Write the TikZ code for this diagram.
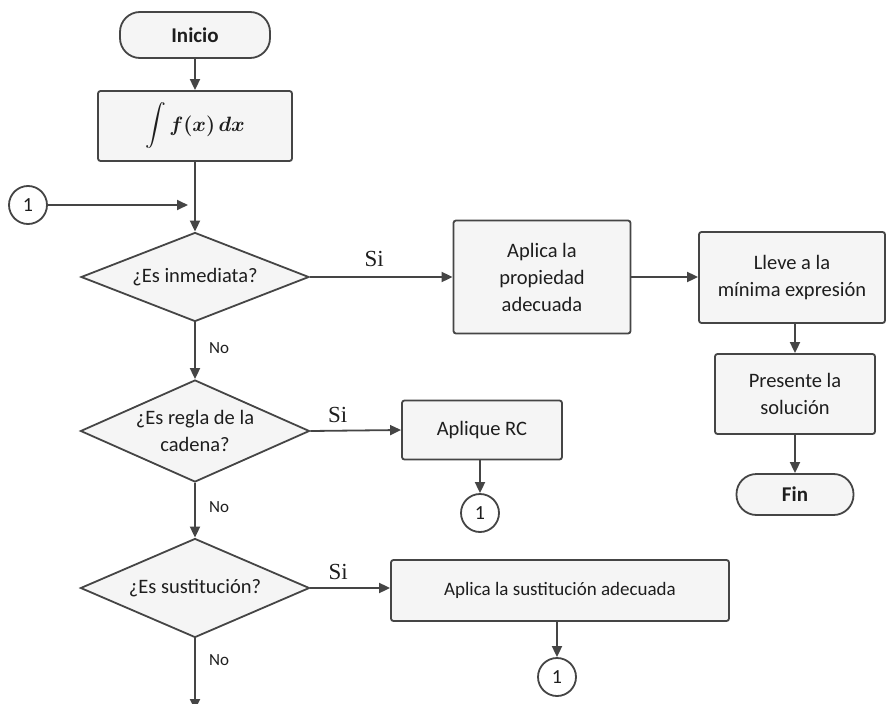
\documentclass[tikz,border=0pt]{standalone}
\usepackage{amsmath}
\usepackage{fontspec}
\setmainfont{Carlito}
\newfontfamily\serifSi{Liberation Serif}
\usetikzlibrary{shapes.geometric,arrows.meta}
\definecolor{ln}{HTML}{454545}
\definecolor{fl}{HTML}{F5F5F5}
\definecolor{tx}{HTML}{1E1E1E}
\begin{document}
\begin{tikzpicture}[x=1pt,y=-1pt,
  every node/.style={text=tx},
  base/.style={draw=ln, line width=1.8pt, fill=fl, inner sep=0pt, align=center, font=\fontsize{20.5}{27}\selectfont},
  procbox/.style={base, rectangle, rounded corners=2.5pt},
  term/.style={base, rectangle, rounded corners=20pt, font=\fontsize{21}{24}\selectfont\bfseries},
  decis/.style={base, diamond},
  conn/.style={draw=ln, line width=1.8pt, fill=white, circle, inner sep=0pt, minimum size=38pt, font=\fontsize{20}{22}\selectfont},
  arr/.style={draw=ln, line width=1.8pt, -{Triangle[length=11pt,width=10pt]}},
  silab/.style={font=\serifSi\fontsize{23}{26}\selectfont},
  nolab/.style={font=\fontsize{17}{19}\selectfont},
  dlab/.style={align=center, font=\fontsize{20.5}{27}\selectfont, text=tx}
]
\useasboundingbox (0,0) rectangle (887,704);

\node[term, minimum width=150pt, minimum height=46pt] (inicio) at (195,35) {Inicio};
\node[procbox, minimum width=194pt, minimum height=70pt, font=\fontsize{20}{24}\selectfont] (integ) at (195,126) {$\displaystyle\int \boldsymbol{f(x)}\,\boldsymbol{dx}$};
\node[conn] (c0) at (28,205) {1};
\coordinate (join) at (195,205);

\node[decis, minimum width=228pt, minimum height=89pt, label={[dlab]center:¿Es inmediata?}] (d1) at (195,277) {};
\node[decis, minimum width=229pt, minimum height=102pt, label={[dlab]center:¿Es regla de la\\cadena?}] (d2) at (195,431) {};
\node[decis, minimum width=229pt, minimum height=99pt, label={[dlab]center:¿Es sustitución?}] (d3) at (195,588) {};
\coordinate (bottom) at (195,710);

\node[procbox, minimum width=177pt, minimum height=113pt] (b1) at (542,277) {Aplica la\\propiedad\\adecuada};
\node[procbox, minimum width=186pt, minimum height=91pt] (b2) at (792,277.5) {Lleve a la\\mínima expresión};
\node[procbox, minimum width=160pt, minimum height=80pt] (b3) at (795,394) {Presente la\\solución};
\node[term, minimum width=117pt, minimum height=41pt] (fin) at (795,494.5) {Fin};

\node[procbox, minimum width=160pt, minimum height=59pt] (rc) at (482,430) {Aplique RC};
\node[conn] (c1) at (480,513) {1};

\node[procbox, minimum width=338pt, minimum height=61pt, font=\fontsize{19}{24}\selectfont] (sus) at (560,590.5) {Aplica la sustitución adecuada};
\node[conn] (c2) at (557,677) {1};

% connectors
\draw[arr] (inicio) -- (integ);
\draw[draw=ln, line width=1.8pt] (integ) -- (join);
\draw[arr] (join) -- (d1.north);
\draw[arr] (c0) -- ([xshift=-7pt]join);

\draw[arr] (d1.east) -- node[silab, above=6pt, pos=0.45] {Si} (b1.west);
\draw[arr] (b1.east) -- (b1.east -| b2.west);
\draw[arr] (b3.north |- b2.south) -- (b3.north);
\draw[arr] (b3) -- (fin);

\draw[arr] (d1.south) -- node[nolab, right=10pt, pos=0.45] {No} (d2.north);
\draw[arr] (d2.east) -- node[silab, above=4pt, pos=0.3] {Si} (rc.west);
\draw[arr] (c1.north |- rc.south) -- (c1.north);

\draw[arr] (d2.south) -- node[nolab, right=10pt, pos=0.45] {No} (d3.north);
\draw[arr] (d3.east) -- node[silab, above=4pt, pos=0.35] {Si} (d3.east -| sus.west);
\draw[arr] (c2.north |- sus.south) -- (c2.north);

\draw[arr] (d3.south) -- node[nolab, right=10pt, pos=0.3] {No} (bottom);
\end{tikzpicture}
\end{document}
